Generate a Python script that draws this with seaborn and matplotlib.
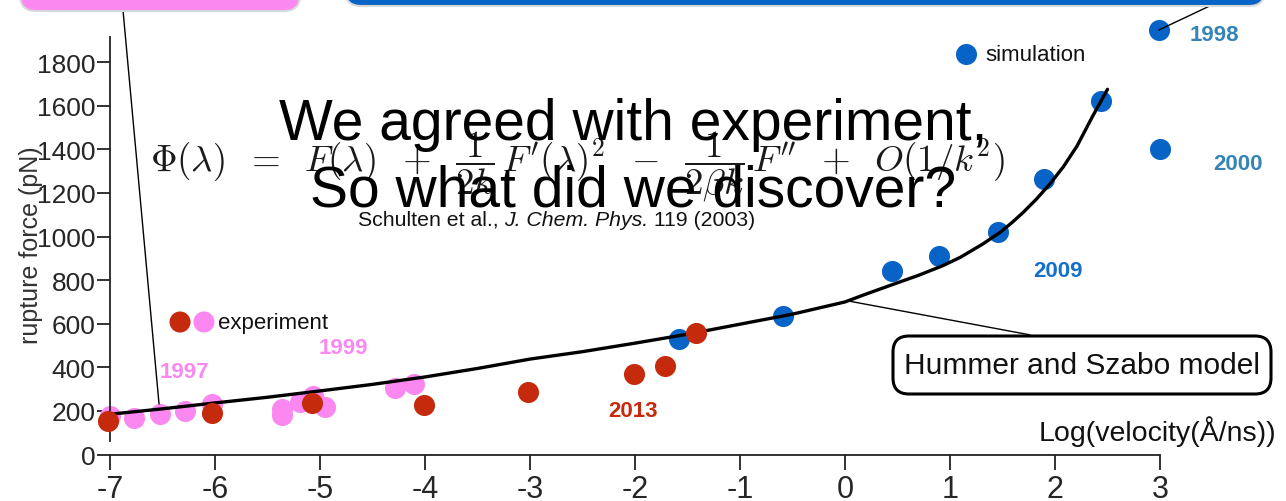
import numpy as np
import pandas as pd
import seaborn as sns
import matplotlib.pyplot as plt
from matplotlib.patches import FancyBboxPatch
from matplotlib.transforms import IdentityTransform

# --- data ---
# experiment 1997/1999 (pink)
pink_x = [-7.0, -6.77, -6.52, -6.29, -6.03, -5.36, -5.36, -5.19, -5.07, -4.95, -4.29, -4.10]
pink_y = [177, 168, 186, 200, 232, 210, 180, 240, 270, 218, 305, 323]
# experiment 2013 (red)
red_x = [-7.02, -6.03, -5.08, -4.01, -3.02, -2.01, -1.71, -1.42]
red_y = [154, 191, 237, 228, 287, 370, 406, 557]
# simulation (blue)
blue_x = [-1.58, -0.59, 0.45, 0.90, 1.46, 1.90, 2.44, 3.0, 2.99]
blue_y = [530, 635, 842, 910, 1020, 1263, 1621, 1401, 1947]
# Hummer and Szabo model curve
model_x = [-7.0, -6.5, -6.0, -5.5, -5.0, -4.5, -4.0, -3.5, -3.0, -2.5, -2.0, -1.5, -1.0,
           -0.5, 0.0, 0.2, 0.46, 0.7, 0.93, 1.1, 1.31, 1.48, 1.6, 1.70, 1.82, 1.95, 2.08,
           2.21, 2.36, 2.5]
model_y = [185, 210, 237, 263, 292, 322, 356, 395, 438, 472, 511, 552, 598,
           644, 700, 736, 781, 822, 866, 905, 965, 1020, 1068, 1112, 1170, 1240, 1320,
           1415, 1553, 1675]

x_ticks = list(range(-7, 4))
y_ticks = list(range(0, 2000, 200))

# year labels: text, x, y, colour
year_labels = [("1997", -6.29, 383, "#FA88F0"),
               ("1999", -4.78, 493, "#FA88F0"),
               ("2013", -2.02, 200, "#C62A0C"),
               ("2009", 2.03, 842, "#1470CC"),
               ("1998", 3.52, 1928, "#3484B8"),
               ("2000", 3.74, 1333, "#3484B8")]

PINK, RED, BLUE = "#FA88F0", "#C62A0C", "#0863C6"

sns.set_theme(style="white")
plt.rcParams['font.family'] = ['Liberation Sans', 'DejaVu Sans']

fig = plt.figure(figsize=(12.86, 5.02), dpi=100)
ax = fig.add_axes([0, 0, 1, 1])
ax.set_xlim(-8.0476, 4.2)
ax.set_ylim(-212.7, 2089)

S = 230
sns.scatterplot(x=pink_x, y=pink_y, color=PINK, s=S, linewidth=0, ax=ax, zorder=2)
sns.scatterplot(x=blue_x, y=blue_y, color=BLUE, s=S, linewidth=0, ax=ax, zorder=3)
sns.lineplot(x=model_x, y=model_y, color="black", linewidth=2.4, ax=ax, zorder=4, sort=False)
sns.scatterplot(x=red_x, y=red_y, color=RED, s=S, linewidth=0, ax=ax, zorder=5)

# hand-made legend entries
sns.scatterplot(x=[-6.333, -6.105], y=[608, 608], hue=["2013", "1997"],
                palette=[RED, PINK], s=S, linewidth=0, ax=ax, legend=False, zorder=5)
ax.text(-5.97, 608, "experiment", fontsize=16, va="center", ha="left", color="#111")
sns.scatterplot(x=[1.152], y=[1836], color=BLUE, s=S, linewidth=0, ax=ax, zorder=5)
ax.text(1.333, 1836, "simulation", fontsize=16, va="center", ha="left", color="#111")

for txt, xx, yy, c in year_labels:
    ax.text(xx, yy, txt, color=c, fontsize=16, fontweight="bold", ha="center", va="center")

# axes styling
for side in ["top", "right"]:
    ax.spines[side].set_visible(False)
ax.spines["left"].set_position(("data", -7))
ax.spines["left"].set_bounds(62, 1915)
ax.spines["bottom"].set_position(("data", 0))
ax.spines["bottom"].set_bounds(-7, 3)
for side in ["left", "bottom"]:
    ax.spines[side].set_color("#222")
    ax.spines[side].set_linewidth(1.3)
ax.set_xticks(x_ticks)
ax.set_xticklabels([str(v) for v in x_ticks])
ax.set_yticks(y_ticks)
ax.tick_params(axis="y", left=True, length=9.5, width=1.3, color="#222", labelsize=19, pad=1)
ax.tick_params(axis="x", bottom=True, length=11, width=1.3, color="#222", labelsize=22, pad=3)
ax.set_ylabel("rupture force (pN)", fontsize=18, color="#333")
ax.yaxis.set_label_coords(31 / 1286, 1 - 245 / 502)
ax.yaxis.label.set_va("center")
ax.set_xlabel("Log(velocity(Å/ns))", fontsize=20.5, color="#111")
ax.xaxis.set_label_coords(1157 / 1286, 1 - 432 / 502)
ax.xaxis.label.set_va("center")

# formula, citation and slide text
formula = (r'$\Phi(\lambda)\;\;=\;\;F(\lambda)\;\;+\;\;\dfrac{1}{2k}\,F^{\prime}(\lambda)^2'
           r'\;\;-\;\;\dfrac{1}{2\beta k}\,F^{\prime\prime}\;\;+\;\;O(1/k^2)$')
ax.text(-2.55, 1325, formula, fontsize=26.5, ha="center", va="center",
        color="#1a1a1a", math_fontfamily="cm", zorder=6)
c1 = ax.text(-4.64, 1079, "Schulten et al., ", fontsize=15.3, ha="left", va="center",
             color="#111", zorder=6)
c2 = ax.annotate("J. Chem. Phys.", xy=(1, 0), xycoords=c1, va="bottom", ha="left",
                 fontsize=15.3, style="italic", color="#111", zorder=6)
ax.annotate(" 119 (2003)", xy=(1, 0), xycoords=c2, va="bottom", ha="left",
            fontsize=15.3, color="#111", zorder=6)
ax.text(-2.02, 1447, "We agreed with experiment,", fontsize=41, ha="center",
        va="baseline", color="black", zorder=7)
ax.text(-2.02, 1144, "So what did we discover?", fontsize=41, ha="center",
        va="baseline", color="black", zorder=7)

# connector lines
ax.plot([0.048, 1.762], [703, 549], color="black", lw=1, zorder=4)
ax.plot([-6.886, -6.533], [2089, 232], color="black", lw=1, zorder=4)
ax.plot([3.552, 2.99], [2075, 1947], color="black", lw=1, zorder=6)

# boxes (display pixels, origin bottom-left)
ident = IdentityTransform()
hs_box = FancyBboxPatch((893, 107), 378, 58, boxstyle="round,pad=0,rounding_size=16",
                        fc="white", ec="black", lw=2.2, transform=ident, zorder=8)
ax.add_artist(hs_box)
ax.text(1082, 136, "Hummer and Szabo model", fontsize=21.5, ha="center", va="center",
        transform=ident, zorder=9, color="#111")
pink_box = FancyBboxPatch((20, 490), 280, 40, boxstyle="round,pad=0,rounding_size=16",
                          fc=PINK, ec="#d8d8d8", lw=1.5, transform=ident, zorder=8)
ax.add_artist(pink_box)
blue_box = FancyBboxPatch((345, 495), 920, 40, boxstyle="round,pad=0,rounding_size=16",
                          fc=BLUE, ec="#d8d8d8", lw=1.5, transform=ident, zorder=8)
ax.add_artist(blue_box)

fig.savefig("out.png", dpi=100)
